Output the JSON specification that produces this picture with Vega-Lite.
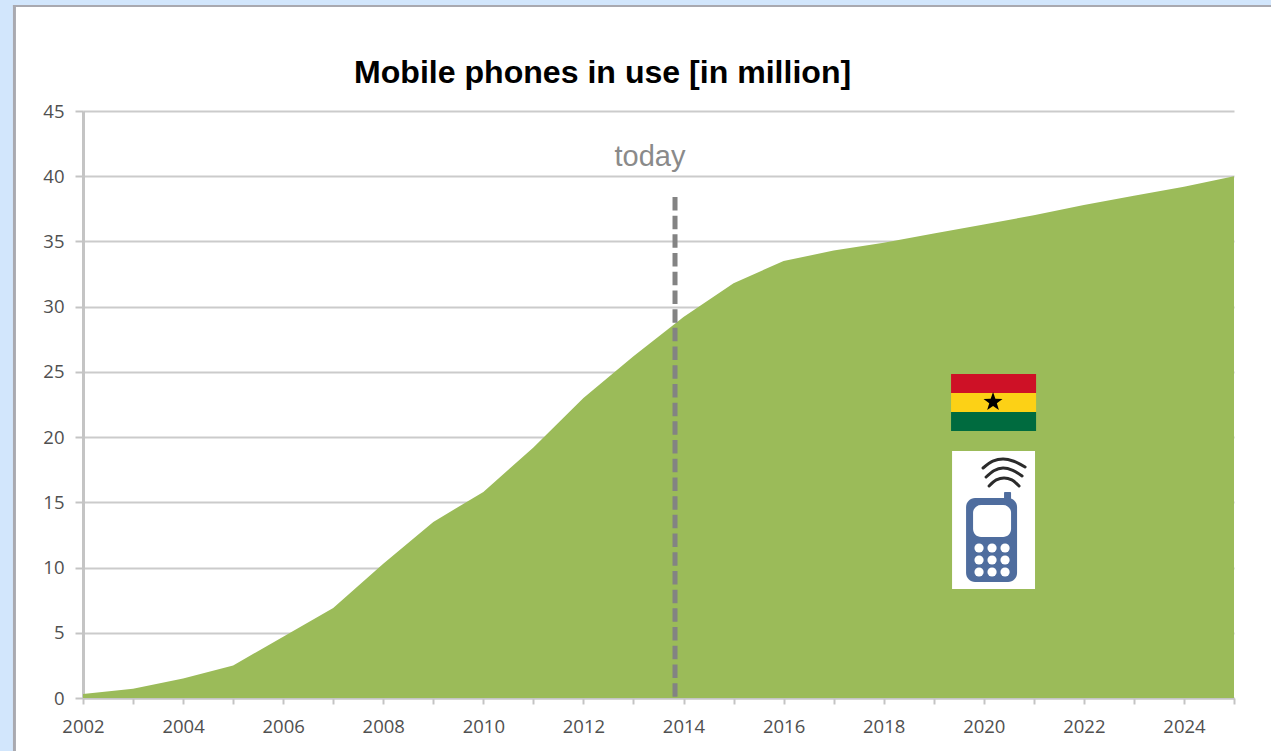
{
  "$schema": "https://vega.github.io/schema/vega-lite/v6.json",
  "width": 1151,
  "height": 587,
  "autosize": {"type": "none"},
  "padding": {"left": 83, "top": 111, "right": 37, "bottom": 53},
  "background": "#ffffff",
  "title": {
    "text": "Mobile phones in use [in million]",
    "anchor": "start",
    "frame": "group",
    "dx": 271,
    "offset": -91,
    "font": "Liberation Sans",
    "fontSize": 32.1,
    "fontWeight": "bold",
    "color": "#000000"
  },
  "config": {"view": {"stroke": null}},
  "encoding": {
    "x": {
      "field": "year",
      "type": "quantitative",
      "scale": {"domain": [2002, 2025], "nice": false, "zero": false},
      "axis": {
        "title": null,
        "values": [2002,2003,2004,2005,2006,2007,2008,2009,2010,2011,2012,2013,2014,2015,2016,2017,2018,2019,2020,2021,2022,2023,2024,2025],
        "labelExpr": "datum.value % 2 == 0 ? format(datum.value, 'd') : ''",
        "labelFont": "Open Sans",
        "labelFontSize": 18.5,
        "labelColor": "#505050",
        "labelPadding": 13,
        "labelOverlap": false,
        "labelFlush": false,
        "grid": false,
        "domainColor": "#c4c4c4",
        "domainWidth": 2,
        "tickColor": "#c4c4c4",
        "tickWidth": 2,
        "tickSize": 6
      }
    },
    "y": {
      "field": "value",
      "type": "quantitative",
      "scale": {"domain": [0, 45], "nice": false},
      "axis": {
        "title": null,
        "values": [0,5,10,15,20,25,30,35,40,45],
        "labelFont": "Open Sans",
        "labelFontSize": 18.5,
        "labelColor": "#505050",
        "labelPadding": 11,
        "grid": true,
        "gridColor": "#cbcbcb",
        "gridWidth": 2,
        "domainColor": "#c4c4c4",
        "domainWidth": 3,
        "tickColor": "#c4c4c4",
        "tickWidth": 2,
        "tickSize": 8
      }
    }
  },
  "layer": [
    {
      "description": "Blue page edge around the white slide",
      "data": {"values": [
        {"year": 2000.3, "year2": 2000.6, "value": -4.1, "value2": 53.6},
        {"year": 2000.3, "year2": 2025.8, "value": 53.13, "value2": 53.6}
      ]},
      "mark": {"type": "rect", "color": "#d2e6fc"},
      "encoding": {"x2": {"field": "year2"}, "y2": {"field": "value2"}}
    },
    {
      "description": "Grey slide border",
      "data": {"values": [
        {"year": 2000.6, "year2": 2000.66, "value": -4.1, "value2": 53.13},
        {"year": 2000.6, "year2": 2025.8, "value": 52.98, "value2": 53.13}
      ]},
      "mark": {"type": "rect", "color": "#a9a9b0"},
      "encoding": {"x2": {"field": "year2"}, "y2": {"field": "value2"}}
    },
    {
      "description": "Mobile phones in use, million",
      "data": {"values": [
        {"year": 2002, "value": 0.3},
        {"year": 2003, "value": 0.7},
        {"year": 2004, "value": 1.5},
        {"year": 2005, "value": 2.5},
        {"year": 2006, "value": 4.7},
        {"year": 2007, "value": 6.9},
        {"year": 2008, "value": 10.3},
        {"year": 2009, "value": 13.5},
        {"year": 2010, "value": 15.8},
        {"year": 2011, "value": 19.2},
        {"year": 2012, "value": 23.0},
        {"year": 2013, "value": 26.2},
        {"year": 2014, "value": 29.2},
        {"year": 2015, "value": 31.8},
        {"year": 2016, "value": 33.5},
        {"year": 2017, "value": 34.3},
        {"year": 2018, "value": 34.9},
        {"year": 2019, "value": 35.6},
        {"year": 2020, "value": 36.3},
        {"year": 2021, "value": 37.0},
        {"year": 2022, "value": 37.8},
        {"year": 2023, "value": 38.5},
        {"year": 2024, "value": 39.2},
        {"year": 2025, "value": 40.0}
      ]},
      "mark": {"type": "area", "color": "#9bbb59", "opacity": 1}
    },
    {
      "description": "Marker for the present year",
      "data": {"values": [
        {"year": 2013.83, "value": 38.41},
        {"year": 2013.83, "value": 0}
      ]},
      "mark": {"type": "line", "color": "#838383", "strokeWidth": 5, "strokeDash": [13.5, 5.2]}
    },
    {
      "data": {"values": [{"year": 2013.33, "value": 41.47, "label": "today"}]},
      "mark": {"type": "text", "font": "Liberation Sans", "fontSize": 29, "color": "#8a8a8a", "align": "center", "baseline": "middle"},
      "encoding": {"text": {"field": "label"}}
    },
    {
      "description": "Ghana flag: red stripe",
      "data": {"values": [{"year": 2019.346, "year2": 2021.045, "value": 23.38, "value2": 24.84}]},
      "mark": {"type": "rect", "color": "#ce1126"},
      "encoding": {"x2": {"field": "year2"}, "y2": {"field": "value2"}}
    },
    {
      "description": "Ghana flag: gold stripe",
      "data": {"values": [{"year": 2019.346, "year2": 2021.045, "value": 21.93, "value2": 23.38}]},
      "mark": {"type": "rect", "color": "#fcd116"},
      "encoding": {"x2": {"field": "year2"}, "y2": {"field": "value2"}}
    },
    {
      "description": "Ghana flag: green stripe",
      "data": {"values": [{"year": 2019.346, "year2": 2021.045, "value": 20.47, "value2": 21.93}]},
      "mark": {"type": "rect", "color": "#006b3f"},
      "encoding": {"x2": {"field": "year2"}, "y2": {"field": "value2"}}
    },
    {
      "description": "Ghana flag: star",
      "data": {"values": [{"year": 2020.185, "value": 22.69}]},
      "mark": {"type": "point", "shape": "M0,-1L0.235,-0.324L0.951,-0.309L0.38,0.124L0.588,0.809L0,0.4L-0.588,0.809L-0.38,0.124L-0.951,-0.309L-0.235,-0.324Z", "filled": true, "color": "#000000", "opacity": 1, "size": 400}
    },
    {
      "description": "Phone icon: white card",
      "data": {"values": [{"year": 2019.366, "year2": 2021.024, "value": 8.36, "value2": 18.94}]},
      "mark": {"type": "rect", "color": "#ffffff"},
      "encoding": {"x2": {"field": "year2"}, "y2": {"field": "value2"}}
    },
    {
      "description": "Phone icon: signal arcs",
      "data": {"values": [
        {"arc": "outer", "year": 2019.986, "value": 17.63},
        {"arc": "outer", "year": 2020.18, "value": 18.15},
        {"arc": "outer", "year": 2020.385, "value": 18.32},
        {"arc": "outer", "year": 2020.6, "value": 18.15},
        {"arc": "outer", "year": 2020.825, "value": 17.71},
        {"arc": "middle", "year": 2020.046, "value": 16.94},
        {"arc": "middle", "year": 2020.2, "value": 17.42},
        {"arc": "middle", "year": 2020.385, "value": 17.63},
        {"arc": "middle", "year": 2020.58, "value": 17.45},
        {"arc": "middle", "year": 2020.765, "value": 17.02},
        {"arc": "inner", "year": 2020.106, "value": 16.25},
        {"arc": "inner", "year": 2020.25, "value": 16.72},
        {"arc": "inner", "year": 2020.405, "value": 16.87},
        {"arc": "inner", "year": 2020.56, "value": 16.72},
        {"arc": "inner", "year": 2020.705, "value": 16.25}
      ]},
      "mark": {"type": "line", "color": "#2b2b2b", "strokeWidth": 3, "interpolate": "monotone", "strokeCap": "round"},
      "encoding": {"detail": {"field": "arc"}}
    },
    {
      "description": "Phone icon: antenna",
      "data": {"values": [{"year": 2020.405, "year2": 2020.545, "value": 15.18, "value2": 15.79}]},
      "mark": {"type": "rect", "color": "#4f6d9e", "cornerRadius": 1},
      "encoding": {"x2": {"field": "year2"}, "y2": {"field": "value2"}}
    },
    {
      "description": "Phone icon: body",
      "data": {"values": [{"year": 2019.646, "year2": 2020.665, "value": 8.89, "value2": 15.33}]},
      "mark": {"type": "rect", "color": "#4f6d9e", "cornerRadius": 9},
      "encoding": {"x2": {"field": "year2"}, "y2": {"field": "value2"}}
    },
    {
      "description": "Phone icon: screen",
      "data": {"values": [{"year": 2019.786, "year2": 2020.545, "value": 12.34, "value2": 14.8}]},
      "mark": {"type": "rect", "color": "#ffffff", "cornerRadius": 8},
      "encoding": {"x2": {"field": "year2"}, "y2": {"field": "value2"}}
    },
    {
      "description": "Phone icon: keypad",
      "data": {"values": [
        {"year": 2019.905, "value": 11.5},
        {"year": 2020.165, "value": 11.5},
        {"year": 2020.425, "value": 11.5},
        {"year": 2019.905, "value": 10.58},
        {"year": 2020.165, "value": 10.58},
        {"year": 2020.425, "value": 10.58},
        {"year": 2019.905, "value": 9.66},
        {"year": 2020.165, "value": 9.66},
        {"year": 2020.425, "value": 9.66}
      ]},
      "mark": {"type": "circle", "color": "#ffffff", "opacity": 1, "size": 85}
    }
  ]
}
